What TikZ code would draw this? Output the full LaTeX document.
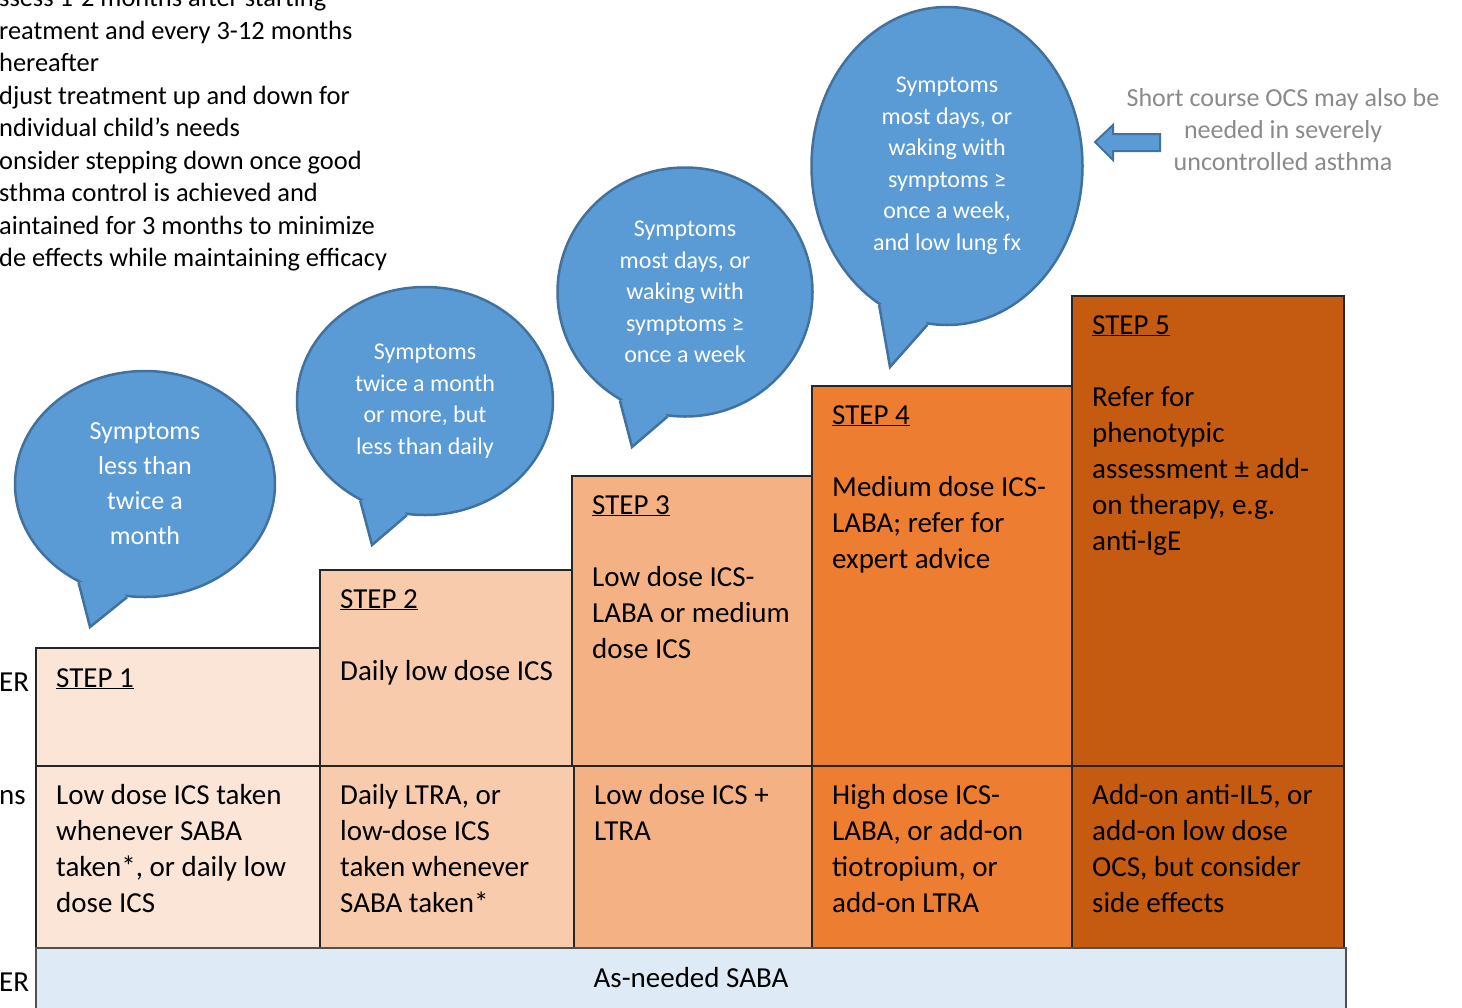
\documentclass[tikz,border=0pt]{standalone}
\usepackage{fontspec}
\setmainfont{Carlito}
\usepackage{tikz}
\usetikzlibrary{shapes.geometric,calc}
\definecolor{fpeach}{HTML}{FBE5D6}
\definecolor{fsalmon}{HTML}{F8CBAD}
\definecolor{fapricot}{HTML}{F4B183}
\definecolor{forange}{HTML}{ED7D31}
\definecolor{frust}{HTML}{C55A11}
\definecolor{fsky}{HTML}{5B9BD5}
\definecolor{fskyedge}{HTML}{41719C}
\definecolor{fpale}{HTML}{DEEBF7}
\definecolor{fline}{HTML}{262626}
\definecolor{fnote}{HTML}{8A8A8A}

\begin{document}
\begin{tikzpicture}[x=1pt,y=-1pt,
  cell/.style={draw=fline,line width=1.5pt},
  celltext/.style={anchor=north west,align=left,inner sep=0pt,font=\fontsize{29}{36}\selectfont},
  bubble/.style={ellipse,draw=fskyedge,fill=fsky,line width=2.5pt,inner sep=0pt,align=center,
    text=white,font=\fontsize{24}{31.5}\selectfont},
  tailline/.style={draw=fskyedge,line width=2.5pt,line join=miter}]
\useasboundingbox (0,0) rectangle (1462,1007);

% advice text, cut off at the left edge of the page
\node[anchor=north west,align=left,inner sep=0pt,font=\fontsize{26.4}{32.5}\selectfont] (advice) at (-1,-12)
  {ssess 1-2 months after starting\\ reatment and every 3-12 months\\ hereafter\\
   djust treatment up and down for\\ ndividual child’s needs\\ onsider stepping down once good\\
   sthma control is achieved and\\ aintained for 3 months to minimize\\ de effects while maintaining efficacy};

% row labels, cut off as well
\node[anchor=west,inner sep=0pt,font=\fontsize{29}{36}\selectfont] (ctrl) at (-1,682) {ER};
\node[anchor=west,inner sep=0pt,font=\fontsize{29}{36}\selectfont] (other) at (-1,798) {ns};
\node[anchor=west,inner sep=0pt,font=\fontsize{29}{36}\selectfont] (reliev) at (-1,982) {ER};

% the staircase: upper cells
\filldraw[cell,fill=fpeach] (36,648) rectangle (320,766);
\filldraw[cell,fill=fsalmon] (320,570) rectangle (572,766);
\filldraw[cell,fill=fapricot] (572,476) rectangle (812,766);
\filldraw[cell,fill=forange] (812,386) rectangle (1072,766);
\filldraw[cell,fill=frust] (1072,296) rectangle (1344,766);
% lower cells
\filldraw[cell,fill=fpeach] (36,766) rectangle (320,948);
\filldraw[cell,fill=fsalmon] (320,766) rectangle (574,948);
\filldraw[cell,fill=fapricot] (574,766) rectangle (812,948);
\filldraw[cell,fill=forange] (812,766) rectangle (1072,948);
\filldraw[cell,fill=frust] (1072,766) rectangle (1344,948);

\node[celltext] (step1) at (56,668) {\underline{STEP 1}};
\node[celltext] (step2) at (340,589) {\underline{STEP 2}\\[36pt] Daily low dose ICS};
\node[celltext] (step3) at (592,495) {\underline{STEP 3}\\[36pt] Low dose ICS-\\ LABA or medium\\ dose ICS};
\node[celltext] (step4) at (832,405) {\underline{STEP 4}\\[36pt] Medium dose ICS-\\ LABA; refer for\\ expert advice};
\node[celltext] (step5) at (1092,315) {\underline{STEP 5}\\[36pt] Refer for\\ phenotypic\\ assessment ± add-\\ on therapy, e.g.\\ anti-IgE};

\node[celltext] (alt1) at (56,784) {Low dose ICS taken\\ whenever SABA\\ taken*, or daily low\\ dose ICS};
\node[celltext] (alt2) at (340,784) {Daily LTRA, or\\ low-dose ICS\\ taken whenever\\ SABA taken*};
\node[celltext] (alt3) at (594,784) {Low dose ICS +\\ LTRA};
\node[celltext] (alt4) at (832,784) {High dose ICS-\\ LABA, or add-on\\ tiotropium, or\\ add-on LTRA};
\node[celltext] (alt5) at (1092,784) {Add-on anti-IL5, or\\ add-on low dose\\ OCS, but consider\\ side effects};

% reliever bar along the bottom
\filldraw[fill=fpale,draw=fline!80,line width=2pt] (36,948) rectangle (1346,1020);
\node[inner sep=0pt,font=\fontsize{29}{36}\selectfont] (saba) at (691,978) {As-needed SABA};

% speech bubbles
\node[bubble,font=\fontsize{26}{35}\selectfont,minimum width=260pt,minimum height=226pt] (sym1) at (145,484)
  {Symptoms\\ less than\\ twice a\\ month};
\coordinate (tip1) at (90,627);
\fill[fsky] (sym1.236) -- (tip1) -- (sym1.261) -- ($(sym1.center)!0.85!(sym1.248)$) -- cycle;
\draw[tailline] (sym1.236) -- (tip1) -- (sym1.261);

\node[bubble,minimum width=256pt,minimum height=228pt] (sym2) at (425,401)
  {Symptoms\\ twice a month\\ or more, but\\ less than daily};
\coordinate (tip2) at (372,545);
\fill[fsky] (sym2.237) -- (tip2) -- (sym2.261) -- ($(sym2.center)!0.85!(sym2.249)$) -- cycle;
\draw[tailline] (sym2.237) -- (tip2) -- (sym2.261);

\node[bubble,minimum width=255pt,minimum height=249pt] (sym3) at (685,292)
  {Symptoms\\ most days, or\\ waking with\\ symptoms ≥\\ once a week};
\coordinate (tip3) at (632,447);
\fill[fsky] (sym3.239) -- (tip3) -- (sym3.262) -- ($(sym3.center)!0.85!(sym3.250)$) -- cycle;
\draw[tailline] (sym3.239) -- (tip3) -- (sym3.262);

\node[bubble,minimum width=271pt,minimum height=318pt] (sym4) at (947,166)
  {Symptoms\\ most days, or\\ waking with\\ symptoms ≥\\ once a week,\\ and low lung fx};
\coordinate (tip4) at (890,367);
\fill[fsky] (sym4.244) -- (tip4) -- (sym4.263) -- ($(sym4.center)!0.85!(sym4.253)$) -- cycle;
\draw[tailline] (sym4.244) -- (tip4) -- (sym4.263);

% block arrow and the note on oral steroids
\filldraw[fill=fsky,draw=fskyedge,line width=2pt] (1095,142) -- (1113,125) -- (1113,134) -- (1160,134)
  -- (1160,151) -- (1113,151) -- (1113,160) -- cycle;
\node[align=center,inner sep=0pt,text=fnote,font=\fontsize{26}{32}\selectfont] (ocsnote) at (1283,130)
  {Short course OCS may also be\\ needed in severely\\ uncontrolled asthma};
\end{tikzpicture}
\end{document}
